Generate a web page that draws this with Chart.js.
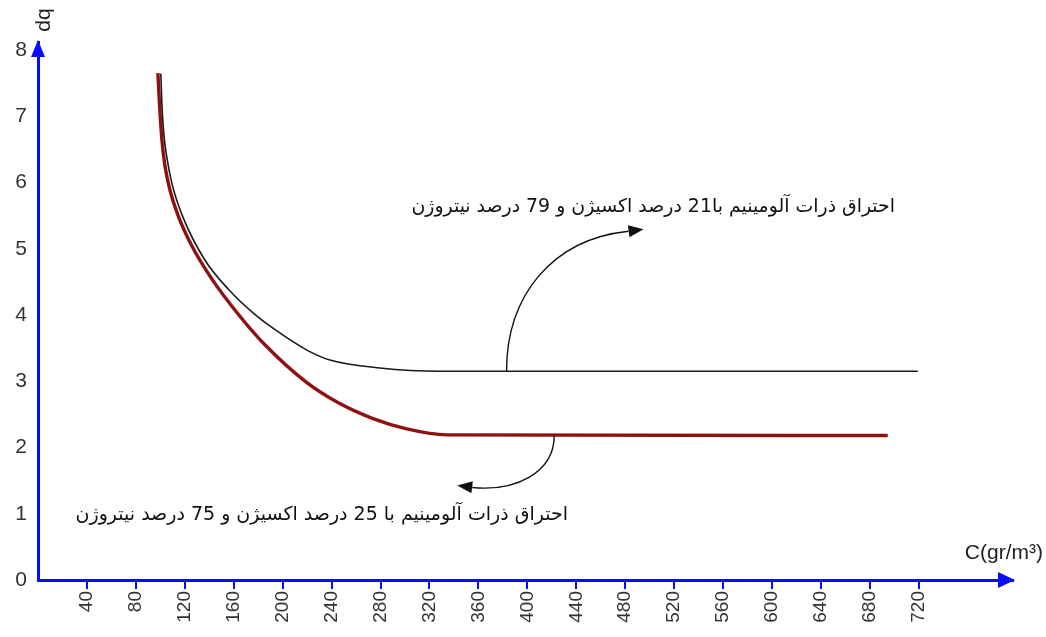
<!DOCTYPE html>
<html lang="fa">
<head>
<meta charset="UTF-8">
<title>dq - C</title>
<script src="https://cdn.jsdelivr.net/npm/chart.js@4.4.1/dist/chart.umd.min.js"></script>
<style>
  body { margin: 0; background: #fff; }
  #wrap { width: 1046px; height: 637px; }
</style>
</head>
<body>
<div id="wrap"><canvas id="chart" width="1046" height="637"></canvas></div>
<script>
  // data
  var xTickLabels = [40, 80, 120, 160, 200, 240, 280, 320, 360, 400, 440, 480, 520, 560, 600, 640, 680, 720];
  var yTickLabels = [0, 1, 2, 3, 4, 5, 6, 7, 8];

  // 21% O2 / 79% N2 (black)
  var blackX = [100.4, 101.3, 102.9, 105.4, 109.4, 118.4, 136.4, 156.0, 176.5, 194.4, 219.8, 238.6, 279.4, 328.5, 719.2];
  var blackY = [7.64, 7.17, 6.72, 6.37, 5.99, 5.48, 4.83, 4.38, 4.02, 3.77, 3.47, 3.32, 3.20, 3.15, 3.15];

  // 25% O2 / 75% N2 (red)
  var redX = [98.0, 99.6, 101.3, 103.7, 107.8, 114.3, 125.8, 142.6, 164.2, 185.5, 219.0, 245.9, 273.3, 301.5, 334.2, 694.6];
  var redY = [7.65, 7.09, 6.64, 6.26, 5.89, 5.51, 5.04, 4.53, 4.00, 3.55, 2.99, 2.67, 2.44, 2.28, 2.19, 2.18];

  var label21 = "احتراق ذرات آلومینیم با21 درصد اکسیژن و 79 درصد نیتروژن";
  var label25 = "احتراق ذرات آلومینیم با 25 درصد اکسیژن و 75 درصد نیتروژن";

  function toPoints(xs, ys) {
    var pts = [];
    for (var i = 0; i < xs.length; i++) pts.push({ x: xs[i], y: ys[i] });
    return pts;
  }

  var blue = "#0a0aff";

  function arrowHead(ctx, fx, fy, tx, ty, len, half) {
    var a = Math.atan2(ty - fy, tx - fx);
    ctx.beginPath();
    ctx.moveTo(tx, ty);
    ctx.lineTo(tx - len * Math.cos(a) + half * Math.sin(a), ty - len * Math.sin(a) - half * Math.cos(a));
    ctx.lineTo(tx - len * Math.cos(a) - half * Math.sin(a), ty - len * Math.sin(a) + half * Math.cos(a));
    ctx.closePath();
    ctx.fill();
  }

  function persianText(ctx, txt, right, midY, targetW) {
    ctx.save();
    ctx.direction = "rtl";
    ctx.font = "15px 'DejaVu Sans'";
    var w = ctx.measureText(txt).width;
    var size = 15 * targetW / w;
    ctx.font = size.toFixed(1) + "px 'DejaVu Sans'";
    ctx.textAlign = "right";
    ctx.textBaseline = "middle";
    ctx.fillStyle = "#111";
    ctx.fillText(txt, right, midY);
    ctx.restore();
  }

  var decor = {
    id: "decor",
    afterDraw: function(chart) {
      var ctx = chart.ctx;
      var a = chart.chartArea;
      var xs = chart.scales.x, ys = chart.scales.y;
      ctx.save();

      // axis arrow heads
      ctx.fillStyle = blue;
      arrowHead(ctx, a.left, a.top + 20, a.left, a.top - 2, 17, 7);
      arrowHead(ctx, a.right - 20, a.bottom, a.right + 2, a.bottom, 17, 8);

      // axis titles
      ctx.fillStyle = "#222";
      ctx.font = "21px 'Liberation Sans'";
      ctx.textBaseline = "middle";
      ctx.save();
      ctx.translate(a.left + 6, 20);
      ctx.rotate(-Math.PI / 2);
      ctx.textAlign = "center";
      ctx.fillText("dq", 0, 0);
      ctx.restore();
      ctx.textAlign = "right";
      ctx.fillText("C(gr/m³)", 1043, 553);

      // annotation arrows
      ctx.strokeStyle = "#111";
      ctx.fillStyle = "#111";
      ctx.lineWidth = 1.4;
      var s1x = xs.getPixelForValue(383), s1y = ys.getPixelForValue(blackY[blackY.length - 1]);
      ctx.beginPath();
      ctx.moveTo(s1x, s1y);
      ctx.bezierCurveTo(s1x, s1y - 75, s1x + 45, s1y - 132, s1x + 122, s1y - 140);
      ctx.stroke();
      arrowHead(ctx, s1x + 122, s1y - 140, s1x + 137, s1y - 142, 15, 6);

      var s2x = xs.getPixelForValue(422), s2y = ys.getPixelForValue(redY[redY.length - 1]);
      ctx.beginPath();
      ctx.moveTo(s2x, s2y);
      ctx.bezierCurveTo(s2x, s2y + 38, s2x - 40, s2y + 56, s2x - 82, s2y + 52);
      ctx.stroke();
      arrowHead(ctx, s2x - 80, s2y + 52, s2x - 97, s2y + 50, 15, 6);

      ctx.restore();

      persianText(ctx, label21, 895, 207, 485);
      persianText(ctx, label25, 568, 515, 493);
    }
  };

  var chart = new Chart(document.getElementById("chart").getContext("2d"), {
    type: "scatter",
    data: {
      datasets: [{
        label: "21%",
        data: toPoints(blackX, blackY),
        showLine: true,
        borderColor: "#1a1a1a",
        borderWidth: 1.6,
        pointRadius: 0,
        cubicInterpolationMode: "monotone"
      }, {
        label: "25%",
        data: toPoints(redX, redY),
        showLine: true,
        borderColor: "#8e1010",
        borderWidth: 3.4,
        pointRadius: 0,
        cubicInterpolationMode: "monotone"
      }]
    },
    options: {
      responsive: false,
      animation: false,
      layout: { padding: { top: 42, right: 33, left: 0, bottom: 0 } },
      plugins: { legend: { display: false }, tooltip: { enabled: false } },
      scales: {
        x: {
          type: "linear",
          min: 0,
          max: 797,
          afterBuildTicks: function(s) { s.ticks = xTickLabels.map(function(v) { return { value: v }; }); },
          afterFit: function(s) { s.height = 57; },
          border: { color: blue, width: 3 },
          grid: { drawOnChartArea: false, color: blue, lineWidth: 2, tickLength: 9 },
          ticks: {
            minRotation: 90, maxRotation: 90, padding: 2,
            color: "#333",
            font: { family: "'Liberation Sans'", size: 19 }
          }
        },
        y: {
          type: "linear",
          min: 0,
          max: 8.12,
          afterBuildTicks: function(s) { s.ticks = yTickLabels.map(function(v) { return { value: v }; }); },
          afterFit: function(s) { s.width = 38; },
          border: { color: blue, width: 3 },
          grid: { drawOnChartArea: false, drawTicks: false },
          ticks: {
            padding: 11,
            color: "#333",
            font: { family: "'Liberation Sans'", size: 21 }
          }
        }
      }
    },
    plugins: [decor]
  });
</script>
</body>
</html>
